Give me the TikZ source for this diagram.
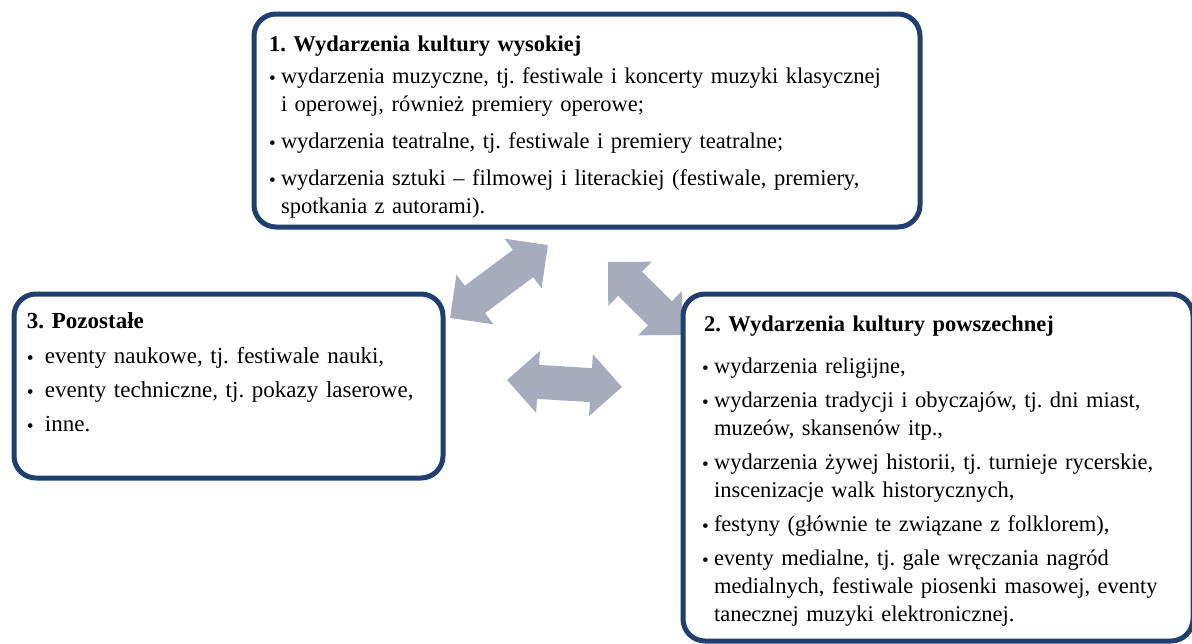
\documentclass[tikz,border=0pt]{standalone}
\usepackage{fontspec}
\setmainfont{Liberation Serif}
\usepackage{graphicx}
\definecolor{navy}{HTML}{1F3F6E}
\definecolor{arrowgray}{HTML}{A6ACBC}
\frenchspacing
\newcommand{\bitem}[2]{\par\hangindent=#1\hangafter=1\noindent\makebox[#1][l]{\raisebox{-0.8pt}{\scalebox{0.85}{\textbullet}}}#2\par}
% double block arrow: centre x, centre y, angle, length, name
\newcommand{\dblarr}[5]{%
\begin{scope}[shift={(#1,#2)}, rotate=#3]
\fill[arrowgray] ({-#4/2},0) -- ({-#4/2+31},31) -- ({-#4/2+31},17) -- ({#4/2-31},17) -- ({#4/2-31},31) -- ({#4/2},0) -- ({#4/2-31},-31) -- ({#4/2-31},-17) -- ({-#4/2+31},-17) -- ({-#4/2+31},-31) -- cycle;
\coordinate (#5) at (0,0);
\end{scope}}
\begin{document}
\begin{tikzpicture}[x=1pt,y=-1pt,
  box/.style={draw=navy, line width=5pt, rounded corners=22pt, fill=white, anchor=north west, inner sep=0pt, outer sep=0pt},
  txt/.style={anchor=north west, inner sep=0pt, outer sep=0pt, align=left}]
\useasboundingbox (0,0) rectangle (1192,643);
\clip (0,0) rectangle (1192,643);
% double arrows between the boxes
\dblarr{499}{281.5}{36.7}{122}{a13}
\dblarr{645}{298.5}{-44.6}{104}{a12}
\dblarr{564.5}{383.5}{-3.5}{115}{a23}
% boxes
\node[box, minimum width=666pt, minimum height=213pt] (b1) at (254,14) {};
\node[box, minimum width=510pt, minimum height=347pt] (b2) at (683,294) {};
\node[box, minimum width=429pt, minimum height=184pt] (b3) at (14,294) {};
% texts
\node[txt, text width=640pt, font=\fontsize{22.5}{28}\selectfont] (t1) at (269,36) {\setlength{\parskip}{9pt}\textbf{1. Wydarzenia kultury wysokiej}\par\vspace{-5pt}
\bitem{12pt}{wydarzenia muzyczne, tj. festiwale i koncerty muzyki klasycznej\newline i operowej, również premiery operowe;}
\bitem{12pt}{wydarzenia teatralne, tj. festiwale i premiery teatralne;}
\bitem{12pt}{wydarzenia sztuki -- filmowej i literackiej (festiwale, premiery,\newline spotkania z autorami).}};
\node[txt, text width=480pt, font=\fontsize{22.5}{28}\selectfont] (t2) at (702,316) {\setlength{\parskip}{6pt}\textbf{\hspace*{2pt}2. Wydarzenia kultury powszechnej}\par\vspace{8pt}
\bitem{12pt}{wydarzenia religijne,}
\bitem{12pt}{wydarzenia tradycji i obyczajów, tj. dni miast,\newline muzeów, skansenów itp.,}
\bitem{12pt}{wydarzenia żywej historii, tj. turnieje rycerskie,\newline inscenizacje walk historycznych,}
\bitem{12pt}{festyny (głównie te związane z folklorem),}
\bitem{12pt}{eventy medialne, tj. gale wręczania nagród\newline medialnych, festiwale piosenki masowej, eventy\newline tanecznej muzyki elektronicznej.}};
\node[txt, text width=400pt, font=\fontsize{23}{34}\selectfont] (t3) at (27,313) {\textbf{3. Pozostałe}\par\vspace{1pt}
\bitem{16pt}{\hspace*{2pt}eventy naukowe, tj. festiwale nauki,}
\bitem{16pt}{\hspace*{2pt}eventy techniczne, tj. pokazy laserowe,}
\bitem{16pt}{\hspace*{2pt}inne.}};
\end{tikzpicture}
\end{document}
